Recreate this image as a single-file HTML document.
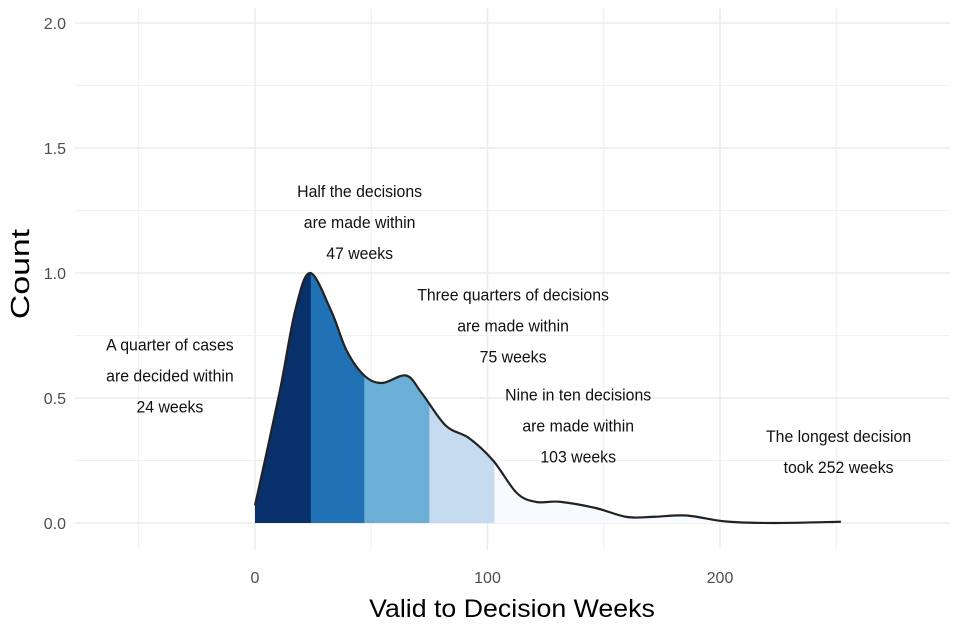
<!DOCTYPE html>
<html><head><meta charset="utf-8"><style>
body{margin:0;background:#fff}
svg{display:block;font-family:"Liberation Sans",sans-serif}
</style></head><body>
<svg id="c" width="960" height="640" viewBox="0 0 960 640" xmlns="http://www.w3.org/2000/svg">
<defs id="defs"></defs>
<g id="grid"></g><g id="fills"></g><g id="line"></g><g id="labels"></g>
<text x="0" y="0" transform="translate(29,274) rotate(-90) scale(1.3,1)" text-anchor="middle" font-size="26" fill="#000">Count</text>
<text x="0" y="0" transform="translate(512,617) scale(1.07,1)" text-anchor="middle" font-size="25" fill="#000">Valid to Decision Weeks</text>
</svg>
<script>
const weeks=[0,10.5,17.3,23.7,32.7,39.4,47,54.6,65,71.7,82,92,102.4,112.6,121,131,146.5,160,172,185.6,202.6,223,252];
const density=[0.07,0.52,0.85,1.0,0.85,0.69,0.59,0.56,0.59,0.52,0.39,0.34,0.25,0.12,0.084,0.085,0.06,0.024,0.025,0.03,0.006,0.0,0.005];
const quantiles=[0,24,47,75,103,252];
const fillColors=["#08306b","#2171b5","#6baed6","#c6dbef","#f7fbff"];
const xTicks=[0,100,200];
const xGrid=[-50,0,50,100,150,200,250];
const yTicks=[0,0.5,1,1.5,2];
const yGrid=[0,0.25,0.5,0.75,1,1.25,1.5,1.75,2];
const notes=[
 {w:-36.6,d:0.69,lines:["A quarter of cases","are decided within","24 weeks"]},
 {w:45,d:1.305,lines:["Half the decisions","are made within","47 weeks"]},
 {w:111,d:0.89,lines:["Three quarters of decisions","are made within","75 weeks"]},
 {w:139,d:0.49,lines:["Nine in ten decisions","are made within","103 weeks"]},
 {w:251,d:0.325,lines:["The longest decision","took 252 weeks"]}
];
const NS="http://www.w3.org/2000/svg";
const X=w=>255+w*2.325, Y=d=>523-d*250;
function mk(t,a,p){const e=document.createElementNS(NS,t);for(const k in a)e.setAttribute(k,a[k]);p.appendChild(e);return e;}
const grid=document.getElementById('grid');
yGrid.forEach(v=>{const l=mk('line',{x1:75,x2:950,y1:Y(v),y2:Y(v),stroke:'#ebebeb','stroke-width':v*2%1===0?1.4:0.8},grid);

});
xGrid.forEach(v=>{const l=mk('line',{x1:X(v),x2:X(v),y1:8,y2:550,stroke:'#ebebeb','stroke-width':v%100===0?1.4:0.8},grid);

});
const lab=document.getElementById('labels');
yTicks.forEach(v=>{const t=mk('text',{x:66,y:Y(v)+6,'text-anchor':'end','font-size':16,fill:'#4d4d4d'},lab);t.textContent=v.toFixed(1);

});
xTicks.forEach(v=>{const t=mk('text',{x:X(v),y:583,'text-anchor':'middle','font-size':16,fill:'#4d4d4d'},lab);t.textContent=v;

});
const P=weeks.map((w,i)=>[X(w),Y(density[i])]);
let d='M'+P[0][0]+','+P[0][1];
for(let i=0;i<P.length-1;i++){const p0=P[i-1]||P[i],p1=P[i],p2=P[i+1],p3=P[i+2]||P[i+1];
d+=` C${p1[0]+(p2[0]-p0[0])/6},${p1[1]+(p2[1]-p0[1])/6} ${p2[0]-(p3[0]-p1[0])/6},${p2[1]-(p3[1]-p1[1])/6} ${p2[0]},${p2[1]}`;}
const area=d+` L${P[P.length-1][0]},${Y(0)} L${P[0][0]},${Y(0)} Z`;
const defs=document.getElementById('defs'),fills=document.getElementById('fills');
for(let i=0;i<quantiles.length-1;i++){
 const cp=mk('clipPath',{id:'q'+i},defs);
 mk('rect',{x:X(quantiles[i]),y:0,width:X(quantiles[i+1])-X(quantiles[i])+(i<quantiles.length-2?0.5:0),height:640},cp);
 const a=mk('path',{d:area,fill:fillColors[i],'clip-path':`url(#q${i})`},fills);
 
 
}
const ln=mk('path',{d:d,fill:'none',stroke:'#222','stroke-width':2.2},document.getElementById('line'));


notes.forEach(n=>{n.lines.forEach((s,j)=>{const cx=X(n.w);const t=mk('text',{x:0,y:0,transform:`translate(${cx},${Y(n.d)+j*31}) scale(0.96,1)`,'text-anchor':'middle','font-size':16.5,fill:'#111'},lab);t.textContent=s;

});});
</script>
</body></html>
